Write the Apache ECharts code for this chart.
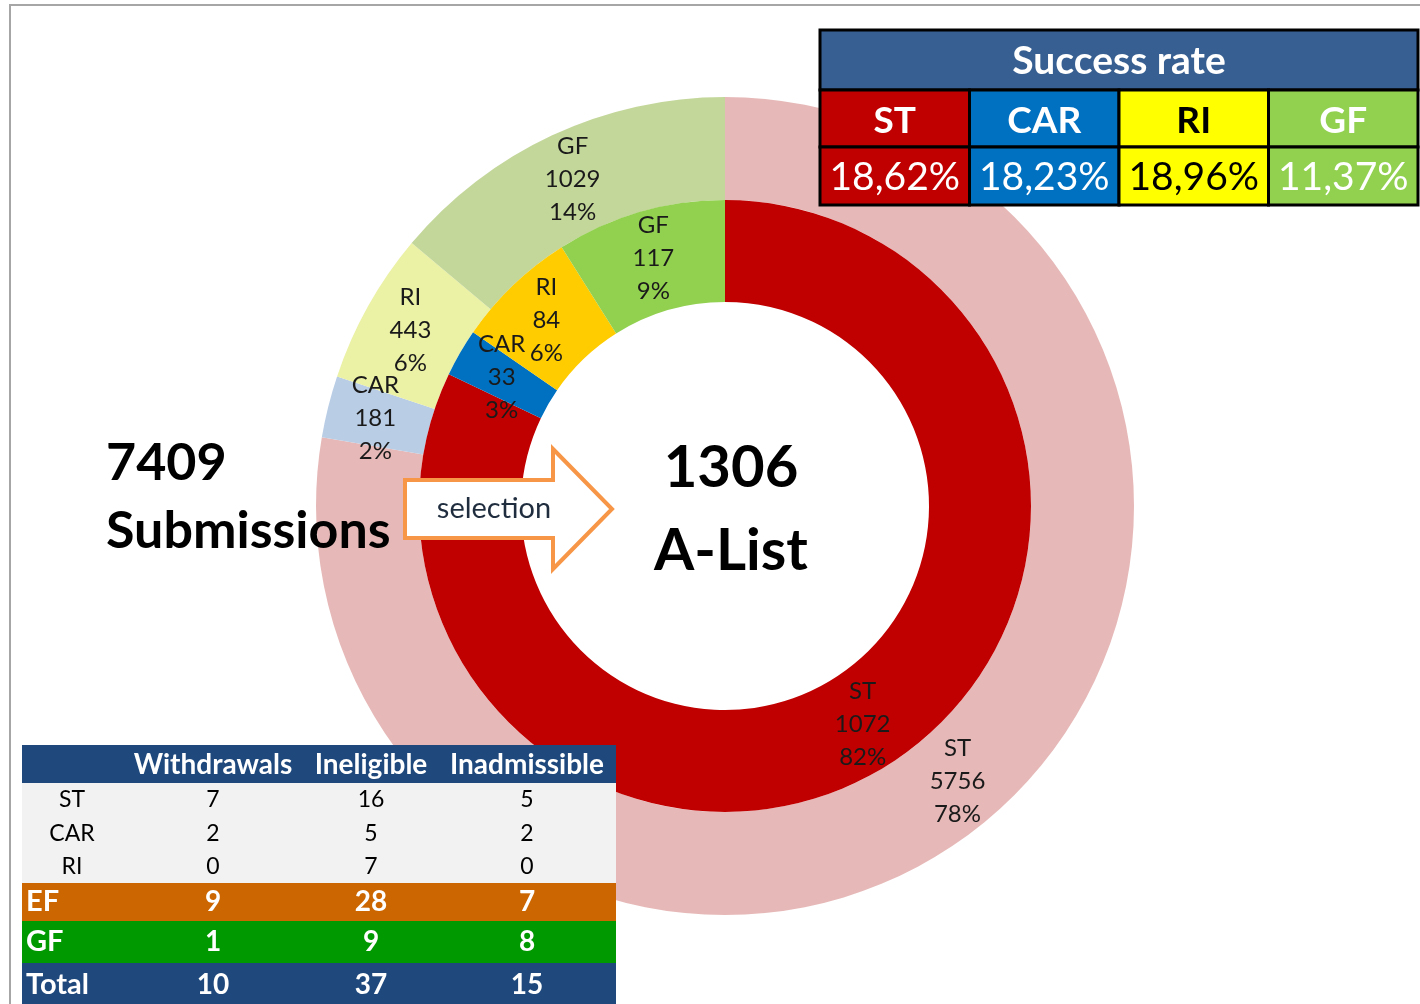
<!DOCTYPE html>
<html>
<head>
<meta charset="utf-8">
<script src="https://cdn.jsdelivr.net/npm/echarts@6/dist/echarts.min.js"></script>
<style>
  html, body { margin: 0; padding: 0; background: #fff; }
  #chart { width: 1420px; height: 1004px; }
</style>
</head>
<body>
<div id="chart"></div>
<script>
// donut data
const categories = ["ST", "CAR", "RI", "GF"];
const submissions = [5756, 181, 443, 1029];
const aList = [1072, 33, 84, 117];
const outerColors = ["#E6B9B8", "#B9CDE5", "#EBF1A5", "#C4D79B"];
const innerColors = ["#C00000", "#0070C0", "#FFCC00", "#92D050"];

// success rate table
const successRates = ["18,62%", "18,23%", "18,96%", "11,37%"];
const rateColors = ["#C00000", "#0070C0", "#FFFF00", "#92D050"];
const rateTextColors = ["#ffffff", "#ffffff", "#000000", "#ffffff"];

// rejections table
const tableColumns = ["Withdrawals", "Ineligible", "Inadmissible"];
const tableRows = ["ST", "CAR", "RI", "EF", "GF", "Total"];
const withdrawals = [7, 2, 0, 9, 1, 10];
const ineligible = [16, 5, 7, 28, 9, 37];
const inadmissible = [5, 2, 0, 7, 8, 15];

const FONT = "Lato, 'Open Sans', sans-serif";
const chart = echarts.init(document.getElementById("chart"));

function text(str, x, y, size, opts = {}) {
  return {
    type: "text",
    z: 20,
    style: {
      text: str,
      x,
      y,
      fill: opts.color || "#000",
      font: `${opts.bold ? "bold " : ""}${size}px ${FONT}`,
      align: opts.align || "center",
      verticalAlign: "middle",
      textAlign: opts.align || "center",
      textVerticalAlign: "middle",
    },
  };
}

function rect(x, y, w, h, fill, stroke, lineWidth) {
  return {
    type: "rect",
    z: 10,
    shape: { x, y, width: w, height: h },
    style: { fill, stroke: stroke || null, lineWidth: lineWidth || 0 },
  };
}

const elements = [];

// sheet border
elements.push({
  type: "polyline",
  z: 30,
  shape: { points: [[10, 1004], [10, 5], [1420, 5]] },
  style: { stroke: "#A6A6A6", lineWidth: 2, fill: null },
});

// success rate table
const rateX = 820;
const rateW = 149.5;
elements.push(rect(rateX, 30, rateW * 4, 60, "#375F91", "#000", 3));
elements.push(text("Success rate", rateX + rateW * 2, 61, 39, { bold: true, color: "#fff" }));
categories.forEach((name, i) => {
  const x = rateX + rateW * i;
  elements.push(rect(x, 90, rateW, 57, rateColors[i], "#000", 3));
  elements.push(rect(x, 147, rateW, 58, rateColors[i], "#000", 3));
  elements.push(text(name, x + rateW / 2, 121, 37, { bold: true, color: rateTextColors[i] }));
  elements.push(text(successRates[i], x + rateW / 2, 177, 39, { color: rateTextColors[i] }));
});

// rejections table
const tabX = 22;
const tabW = 594;
const colCenters = [213, 371, 527];
const rowTops = [783, 817, 850, 883, 921, 963];
const rowHeights = [34, 33, 33, 38, 42, 44];
const rowFills = ["#F2F2F2", "#F2F2F2", "#F2F2F2", "#CC6600", "#009900", "#1F497D"];
elements.push(rect(tabX, 745, tabW, 38, "#1F497D"));
tableColumns.forEach((col, j) => {
  elements.push(text(col, colCenters[j], 765, 28, { bold: true, color: "#fff" }));
});
tableRows.forEach((row, i) => {
  const y = rowTops[i];
  const cy = y + rowHeights[i] / 2;
  const summary = i >= 3;
  elements.push(rect(tabX, y, tabW, rowHeights[i], rowFills[i]));
  if (summary) {
    elements.push(text(row, 26, cy, 29, { bold: true, color: "#fff", align: "left" }));
  } else {
    elements.push(text(row, 72, cy, 23, { color: "#000" }));
  }
  [withdrawals, ineligible, inadmissible].forEach((vals, j) => {
    elements.push(text(String(vals[i]), colCenters[j], cy, summary ? 28 : 23, {
      bold: summary,
      color: summary ? "#fff" : "#000",
    }));
  });
});

// selection arrow
elements.push({
  type: "polygon",
  z: 15,
  shape: {
    points: [[405, 480], [553, 480], [553, 449], [612, 509], [553, 569], [553, 538], [405, 538]],
  },
  style: { fill: "#fff", stroke: "#F79646", lineWidth: 4 },
});
elements.push(text("selection", 494, 509, 29, { color: "#1F2D3F" }));

// headline numbers
elements.push(text("7409", 106, 463, 52, { bold: true, align: "left" }));
elements.push(text("Submissions", 106, 531, 52, { bold: true, align: "left" }));
elements.push(text("1306", 731, 468, 58, { bold: true }));
elements.push(text("A-List", 731, 551, 58, { bold: true }));

const ringLabel = {
  show: true,
  position: "inside",
  formatter: "{b}\n{c}\n{d}%",
  color: "#1a1a1a",
  fontFamily: FONT,
  fontSize: 24,
  lineHeight: 33,
  align: "center",
};

chart.setOption({
  animation: false,
  backgroundColor: "#fff",
  series: [
    {
      type: "pie",
      center: [725, 506],
      radius: [306, 409],
      startAngle: 90,
      clockwise: true,
      percentPrecision: 0,
      avoidLabelOverlap: false,
      label: ringLabel,
      labelLine: { show: false },
      labelLayout: { hideOverlap: false },
      emphasis: { disabled: true },
      data: categories.map((name, i) => ({
        name,
        value: submissions[i],
        itemStyle: { color: outerColors[i] },
      })),
    },
    {
      type: "pie",
      center: [725, 506],
      radius: [204, 306],
      startAngle: 90,
      clockwise: true,
      percentPrecision: 0,
      avoidLabelOverlap: false,
      label: ringLabel,
      labelLine: { show: false },
      labelLayout: { hideOverlap: false },
      emphasis: { disabled: true },
      data: categories.map((name, i) => ({
        name,
        value: aList[i],
        itemStyle: { color: innerColors[i] },
      })),
    },
  ],
  graphic: { elements },
});
</script>
</body>
</html>
